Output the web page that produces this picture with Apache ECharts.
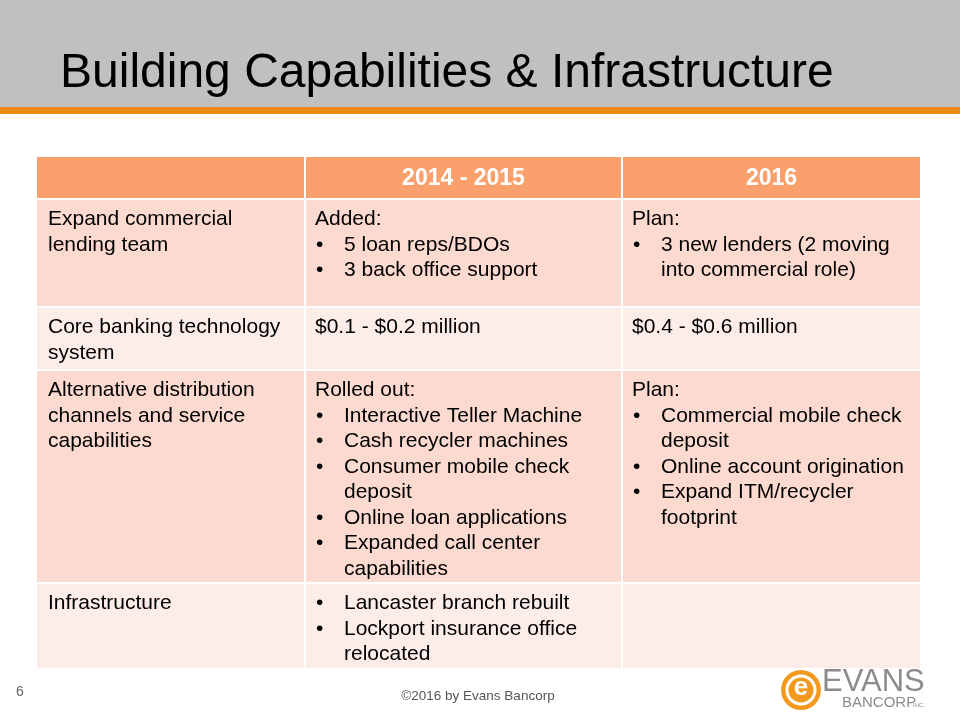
<!DOCTYPE html>
<html>
<head>
<meta charset="utf-8">
<script src="https://cdn.jsdelivr.net/npm/echarts@6/dist/echarts.min.js"></script>
<style>html,body{margin:0;padding:0;background:#fff}#chart{width:960px;height:720px}</style>
</head>
<body>
<div id="chart"></div>
<script>
// ---- data ----
const titleText = 'Building Capabilities & Infrastructure';
const columnHeaders = ['', '2014 - 2015', '2016'];
const rowLabels = [
  ['Expand commercial', 'lending team'],
  ['Core banking technology', 'system'],
  ['Alternative distribution', 'channels and service', 'capabilities'],
  ['Infrastructure']
];
const period2014to2015 = [
  ['Added:', '• 5 loan reps/BDOs', '• 3 back office support'],
  ['$0.1 - $0.2 million'],
  ['Rolled out:', '• Interactive Teller Machine', '• Cash recycler machines', '• Consumer mobile check', '  deposit', '• Online loan applications', '• Expanded call center', '  capabilities'],
  ['• Lancaster branch rebuilt', '• Lockport insurance office', '  relocated']
];
const period2016 = [
  ['Plan:', '• 3 new lenders (2 moving', '  into commercial role)'],
  ['$0.4 - $0.6 million'],
  ['Plan:', '• Commercial mobile check', '  deposit', '• Online account origination', '• Expand ITM/recycler', '  footprint'],
  []
];
const pageNumber = '6';
const footerText = '\u00A92016 by Evans Bancorp';

// ---- layout (table units in px along hidden axes) ----
const colEdges = [0, 268, 585, 883];
const rowEdges = [0, 42, 150, 213, 426, 511];
const FONT = "'Liberation Sans', Arial, Helvetica, sans-serif";
const C_HEAD = '#F9A06D', C_ODD = '#FCDAD0', C_EVEN = '#FDEDE9';

const columns = [rowLabels, period2014to2015, period2016];
const cells = [];
for (let r = 0; r <= rowLabels.length; r++) {
  for (let c = 0; c < 3; c++) cells.push([c, r]);
}

function renderCell(params, api) {
  const c = api.value(0), r = api.value(1);
  const p0 = api.coord([colEdges[c], rowEdges[r]]);
  const p1 = api.coord([colEdges[c + 1], rowEdges[r + 1]]);
  const x0 = p0[0] + (c > 0 ? 1 : 0), x1 = p1[0] - (c < 2 ? 1 : 0);
  const y0 = p0[1] + (r > 0 ? 1 : 0), y1 = p1[1] - (r < rowLabels.length ? 1 : 0);
  const fill = r === 0 ? C_HEAD : (r % 2 === 1 ? C_ODD : C_EVEN);
  const children = [{ type: 'rect', shape: { x: x0, y: y0, width: x1 - x0, height: y1 - y0 }, style: { fill: fill } }];
  if (r === 0) {
    if (columnHeaders[c]) {
      children.push({ type: 'text', style: { text: columnHeaders[c], x: (x0 + x1) / 2, y: (y0 + y1) / 2 + 1, align: 'center', verticalAlign: 'middle', fill: '#fff', font: 'bold 23px ' + FONT } });
    }
  } else {
    const lines = columns[c][r - 1] || [];
    const base = p0[0] + 10 + (c === 0 ? 1 : 0);
    lines.forEach(function (ln, i) {
      const y = p0[1] + 20.5 + i * 25.5;
      let x = base, t = ln;
      if (ln.indexOf('• ') === 0) {
        children.push({ type: 'text', style: { text: '•', x: base + 1, y: y, verticalAlign: 'middle', fill: '#000', font: '21px ' + FONT } });
        x = base + 29; t = ln.slice(2);
      } else if (ln.indexOf('  ') === 0) {
        x = base + 29; t = ln.slice(2);
      }
      children.push({ type: 'text', style: { text: t, x: x, y: y, verticalAlign: 'middle', fill: '#000', font: '21px ' + FONT } });
    });
  }
  return { type: 'group', children: children };
}

const chart = echarts.init(document.getElementById('chart'), null, { renderer: 'canvas' });
chart.setOption({
  backgroundColor: '#ffffff',
  animation: false,
  grid: { left: 37, top: 157, width: 883, height: 511 },
  xAxis: { type: 'value', min: 0, max: 883, show: false },
  yAxis: { type: 'value', min: 0, max: 511, inverse: true, show: false },
  series: [{
    type: 'custom',
    renderItem: renderCell,
    data: cells,
    encode: { x: 0, y: 1 },
    clip: false,
    silent: true
  }],
  graphic: [
    { type: 'rect', shape: { x: 0, y: 0, width: 960, height: 107 }, style: { fill: '#C0C0C0' } },
    { type: 'rect', shape: { x: 0, y: 107, width: 960, height: 7 }, style: { fill: '#EE8A16' } },
    { type: 'text', style: { text: titleText, x: 60, y: 74, verticalAlign: 'middle', fill: '#000', font: '48px ' + FONT } },
    { type: 'text', style: { text: pageNumber, x: 16, y: 692, verticalAlign: 'middle', fill: '#666', font: '14px ' + FONT } },
    { type: 'text', style: { text: footerText, x: 478, y: 696, align: 'center', verticalAlign: 'middle', fill: '#555', font: '13.5px ' + FONT } },
    { type: 'circle', shape: { cx: 801, cy: 690, r: 20 }, style: { fill: '#F39A1E' } },
    { type: 'circle', shape: { cx: 801, cy: 690, r: 14 }, style: { fill: 'none', stroke: '#fff', lineWidth: 3 } },
    { type: 'text', style: { text: 'e', x: 801, y: 688, align: 'center', verticalAlign: 'middle', fill: '#fff', font: 'bold 26px ' + FONT } },
    { type: 'text', style: { text: 'EVANS', x: 822, y: 682, verticalAlign: 'middle', fill: '#8C8C8C', font: "31px 'Liberation Sans Narrow', " + FONT } },
    { type: 'text', style: { text: 'BANCORP', x: 842, y: 703, verticalAlign: 'middle', fill: '#8C8C8C', font: "15px 'Liberation Sans Narrow', " + FONT } },
    { type: 'text', style: { text: 'INC.', x: 913, y: 705, verticalAlign: 'middle', fill: '#8C8C8C', font: '6px ' + FONT } }
  ]
});
</script>
</body>
</html>
